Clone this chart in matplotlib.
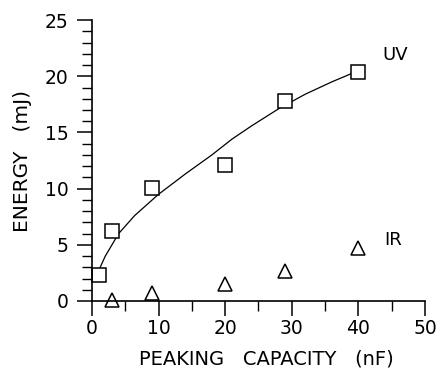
import matplotlib
matplotlib.use("Agg")
import matplotlib.pyplot as plt
from matplotlib.ticker import MultipleLocator

# measured points
uv_capacity = [1, 3, 9, 20, 29, 40]
uv_energy = [2.3, 6.2, 10.1, 12.1, 17.8, 20.4]

ir_capacity = [3, 9, 20, 29, 40]
ir_energy = [0.1, 0.7, 1.5, 2.7, 4.7]

# fitted curve through UV data
fit_capacity = [1, 2, 4, 6.4, 10, 14, 18, 21, 24, 28, 32, 36, 40]
fit_energy = [2.7, 4.0, 6.0, 7.6, 9.5, 11.3, 13.0, 14.4, 15.6, 17.1, 18.4, 19.5, 20.5]

plt.rcParams["font.family"] = ["DejaVu Sans"]

fig = plt.figure(figsize=(4.37, 3.76), dpi=100)
ax = fig.add_axes([0.2105, 0.1995, 0.762, 0.747])

ax.plot(fit_capacity, fit_energy, color="black", linewidth=0.9)
ax.plot(uv_capacity, uv_energy, linestyle="none", marker="s", markersize=9.5,
        markerfacecolor="white", markeredgecolor="black", markeredgewidth=1.1,
        clip_on=False)
ax.plot(ir_capacity, ir_energy, linestyle="none", marker="^", markersize=10,
        markerfacecolor="white", markeredgecolor="black", markeredgewidth=1.1,
        clip_on=False)

ax.text(45.5, 21.9, "UV", fontsize=13, ha="center", va="center")
ax.text(45.2, 5.4, "IR", fontsize=13, ha="center", va="center")

ax.set_xlim(0, 50)
ax.set_ylim(0, 25)
ax.xaxis.set_major_locator(MultipleLocator(10))
ax.xaxis.set_minor_locator(MultipleLocator(5))
ax.yaxis.set_major_locator(MultipleLocator(5))
ax.yaxis.set_minor_locator(MultipleLocator(1))

for side in ["top", "right"]:
    ax.spines[side].set_visible(False)
for side in ["left", "bottom"]:
    ax.spines[side].set_linewidth(1.2)

ax.tick_params(axis="both", which="major", direction="out", length=11, width=1.1,
               labelsize=13.5)
ax.tick_params(axis="both", which="minor", direction="out", length=7.5, width=1.0)
ax.tick_params(axis="x", which="major", pad=2)
ax.tick_params(axis="y", which="major", pad=6)

ax.set_xlabel("PEAKING   CAPACITY   (nF)", fontsize=14, labelpad=8)
ax.xaxis.label.set_x(0.523)
ax.set_ylabel("ENERGY   (mJ)", fontsize=14.5, labelpad=9)

fig.savefig("out.png", dpi=100)
